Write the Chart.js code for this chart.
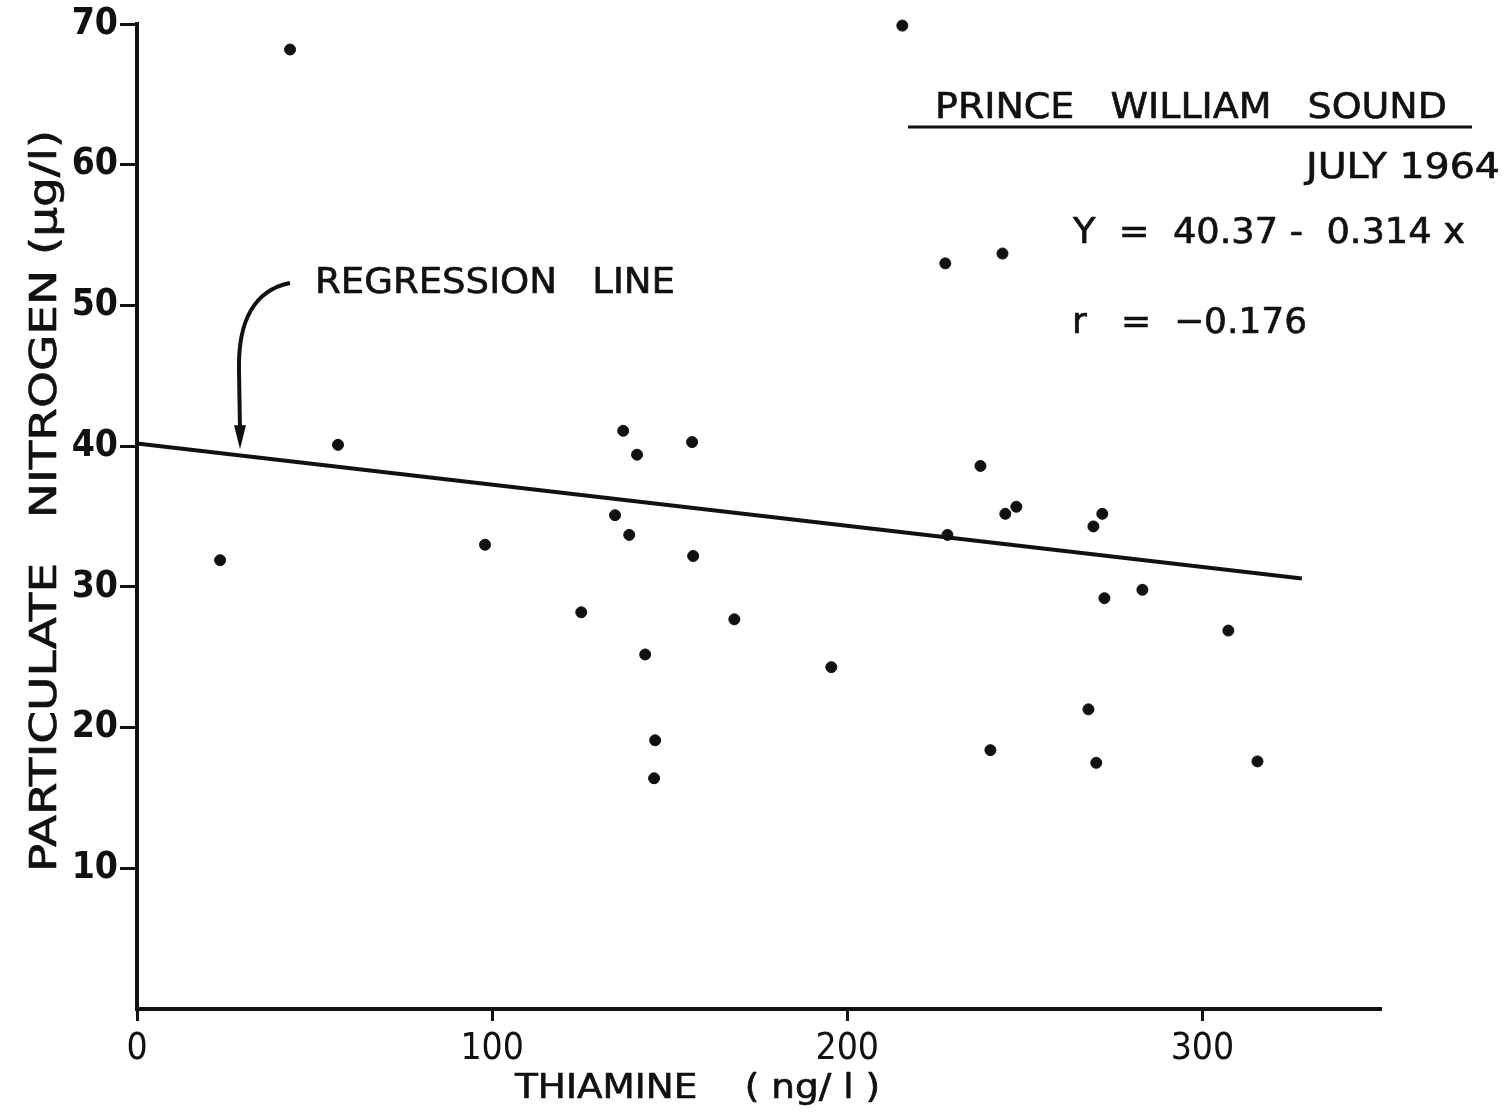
<!DOCTYPE html>
<html>
<head>
<meta charset="utf-8">
<script src="https://cdn.jsdelivr.net/npm/chart.js@4.4.1/dist/chart.umd.min.js"></script>
<style>
  html, body { margin: 0; padding: 0; background: #fff; }
  #wrap { width: 1504px; height: 1117px; }
</style>
</head>
<body>
<div id="wrap"><canvas id="chart" width="1504" height="1117"></canvas></div>
<script>
// thiamine (ng/l) vs particulate nitrogen (ug/l)
const thiamine = [23.4, 43.1, 56.6, 98.0, 125.1, 134.6, 136.9, 138.6, 140.8, 143.1, 145.9, 145.6,
  156.3, 156.6, 168.2, 195.5, 215.5, 227.6, 228.2, 237.5, 240.3, 243.7, 244.5, 247.6,
  267.9, 269.3, 270.1, 271.8, 272.4, 283.1, 307.3, 315.5];
const nitrogen = [31.9, 68.2, 40.1, 33.0, 28.2, 35.1, 41.1, 33.7, 39.4, 25.2, 19.1, 16.4,
  40.3, 32.2, 27.7, 24.3, 69.9, 53.0, 33.7, 38.6, 18.4, 53.7, 35.2, 35.7,
  21.3, 34.3, 17.5, 35.2, 29.2, 29.8, 26.9, 17.6];

// regression line as drawn
const lineX = [0, 328];
const lineY = [40.2, 30.6];

const xTicks = [0, 100, 200, 300];
const yTicks = [10, 20, 30, 40, 50, 60, 70];

const INK = '#111';
const FONT = "'DejaVu Sans Condensed', 'DejaVu Sans', sans-serif";

// draw text stretched to a given width, a little thickened like pen lettering
function fitText(ctx, text, left, base, width, size, weight) {
  ctx.font = (weight || 'normal') + ' ' + size + 'px ' + FONT;
  const w = ctx.measureText(text).width;
  ctx.save();
  ctx.translate(left, base);
  ctx.scale(width / w, 1);
  ctx.textAlign = 'left';
  ctx.textBaseline = 'alphabetic';
  ctx.lineWidth = 0.6;
  ctx.lineJoin = 'round';
  ctx.fillText(text, 0, 0);
  ctx.strokeText(text, 0, 0);
  ctx.restore();
}

const notes = {
  id: 'notes',
  afterDraw(chart) {
    const ctx = chart.ctx;
    const xs = chart.scales.x, ys = chart.scales.y;
    ctx.save();
    ctx.fillStyle = INK;
    ctx.strokeStyle = INK;

    // header block
    fitText(ctx, 'PRINCE   WILLIAM   SOUND', 935, 118, 512, 36);
    ctx.lineWidth = 3;
    ctx.beginPath();
    ctx.moveTo(908, 127);
    ctx.lineTo(1472, 127);
    ctx.stroke();
    fitText(ctx, 'JULY 1964', 1306, 178, 194, 36);
    fitText(ctx, 'Y  =  40.37 -  0.314 x', 1073, 243, 392, 36);
    fitText(ctx, 'r   =  \u22120.176', 1072, 333, 235, 36);

    // regression line label and arrow
    fitText(ctx, 'REGRESSION   LINE', 315, 293, 360, 36);
    const tipX = xs.getPixelForValue(29);
    const tipY = ys.getPixelForValue(39.5) - 4;
    ctx.lineWidth = 4;
    ctx.beginPath();
    ctx.moveTo(290, 283);
    ctx.bezierCurveTo(255, 290, 238, 320, tipX - 1, 370);
    ctx.lineTo(tipX, tipY - 20);
    ctx.stroke();
    ctx.beginPath();
    ctx.moveTo(tipX - 6, tipY - 24);
    ctx.lineTo(tipX + 6, tipY - 24);
    ctx.lineTo(tipX, tipY);
    ctx.closePath();
    ctx.fill();

    // axis titles
    fitText(ctx, 'THIAMINE    ( ng/ l )', 515, 1098, 365, 34);
    ctx.save();
    ctx.translate(56, 872);
    ctx.rotate(-Math.PI / 2);
    fitText(ctx, 'PARTICULATE   NITROGEN (\u03bcg/l)', 0, 0, 742, 38);
    ctx.restore();

    ctx.restore();
  }
};

new Chart(document.getElementById('chart'), {
  type: 'scatter',
  data: {
    datasets: [{
      label: 'samples',
      data: thiamine.map((v, i) => ({ x: v, y: nitrogen[i] })),
      backgroundColor: INK,
      borderColor: INK,
      pointRadius: 5.5,
      pointHoverRadius: 5.5,
      clip: false
    }, {
      label: 'regression',
      data: lineX.map((v, i) => ({ x: v, y: lineY[i] })),
      showLine: true,
      borderColor: INK,
      borderWidth: 4,
      pointRadius: 0,
      clip: false
    }]
  },
  options: {
    responsive: false,
    animation: false,
    devicePixelRatio: 1,
    layout: { padding: { top: 22, right: 124, left: 0, bottom: 0 } },
    plugins: { legend: { display: false }, tooltip: { enabled: false } },
    scales: {
      x: {
        type: 'linear', min: 0, max: 350,
        afterBuildTicks: s => { s.ticks = xTicks.map(v => ({ value: v })); },
        afterFit: s => { s.height = 108; },
        border: { display: true, color: INK, width: 4 },
        grid: { drawOnChartArea: false, drawTicks: true, tickLength: 12, color: INK, lineWidth: 3 },
        ticks: { color: INK, padding: 6, font: { family: FONT, size: 37 } }
      },
      y: {
        type: 'linear', min: 0, max: 70,
        afterBuildTicks: s => { s.ticks = yTicks.map(v => ({ value: v })); },
        afterFit: s => { s.width = 137; },
        border: { display: true, color: INK, width: 4 },
        grid: { drawOnChartArea: false, drawTicks: true, tickLength: 17, color: INK, lineWidth: 3 },
        ticks: { color: INK, padding: 2, font: { family: FONT, size: 37, weight: 'bold' } }
      }
    }
  },
  plugins: [notes]
});
</script>
</body>
</html>
